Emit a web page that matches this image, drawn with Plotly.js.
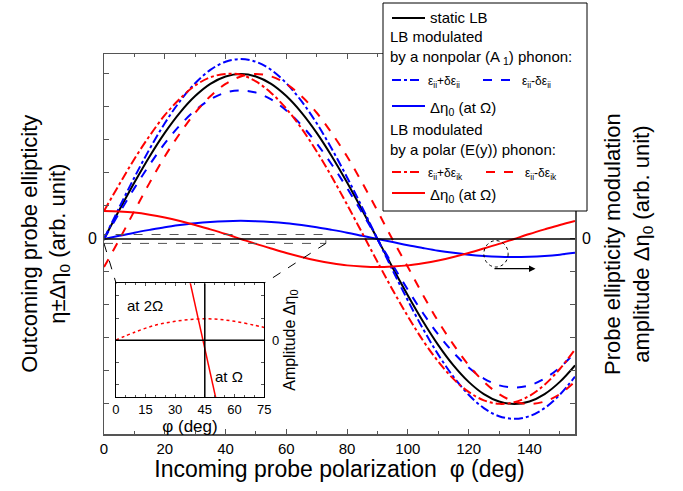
<!DOCTYPE html>
<html><head><meta charset="utf-8">
<script src="https://cdn.plot.ly/plotly-2.35.2.min.js"></script>
<style>body{margin:0;background:#fff}#g{width:683px;height:491px}</style>
</head><body><div id="g"></div>
<script>
const phi=[0,5,10,15,20,25,30,35,40,45,50,55,60,65,70,75,80,85,90,95,100,105,110,115,120,125,130,135,140,145,150,155];
const staticLB=[0,.174,.342,.5,.643,.766,.866,.940,.985,1,.985,.940,.866,.766,.643,.5,.342,.174,0,-.174,-.342,-.5,-.643,-.766,-.866,-.940,-.985,-1,-.985,-.940,-.866,-.766];
const a1Plus=[0,.19,.373,.545,.701,.835,.944,1.025,1.074,1.09,1.074,1.025,.944,.835,.701,.545,.373,.19,0,-.19,-.373,-.545,-.701,-.835,-.944,-1.025,-1.074,-1.09,-1.074,-1.025,-.944,-.835];
const a1Minus=[0,.157,.308,.45,.579,.689,.779,.846,.887,.9,.887,.846,.779,.689,.579,.45,.308,.157,0,-.157,-.308,-.45,-.579,-.689,-.779,-.846,-.887,-.9,-.887,-.846,-.779,-.689];
const a1Delta=[0,.019,.038,.055,.071,.084,.095,.103,.108,.11,.108,.103,.095,.084,.071,.055,.038,.019,0,-.019,-.038,-.055,-.071,-.084,-.095,-.103,-.108,-.11,-.108,-.103,-.095,-.084];
const eyPlus=[.17,.33,.485,.625,.75,.85,.93,.98,1,.995,.955,.885,.79,.67,.53,.375,.208,.035,-.139,-.309,-.469,-.616,-.743,-.848,-.927,-.978,-.999,-.990,-.951,-.883,-.788,-.669];
const eyMinus=[-.17,-.005,.17,.34,.5,.64,.765,.865,.94,.985,1,.985,.94,.865,.765,.64,.5,.34,.17,-.005,-.17,-.34,-.5,-.64,-.765,-.865,-.94,-.985,-1,-.985,-.94,-.865];
const eyDelta=[.17,.167,.16,.147,.13,.109,.085,.058,.03,0,-.03,-.058,-.085,-.109,-.13,-.147,-.16,-.167,-.17,-.167,-.16,-.147,-.13,-.109,-.085,-.058,-.03,0,.03,.058,.085,.109];
const insetPhi=[0,10,20,30,40,50,60,70,75];
const inset2W=[0,.15,.27,.34,.38,.38,.34,.27,.23];
const insetWPhi=[36,54];
const insetW=[1.3,-1.6];
const xTicks=[0,20,40,60,80,100,120,140];
const insetTicks=[0,15,30,45,60,75];

const F='Arial, Liberation Sans, sans-serif';
const ln=(c,d,w)=>({color:c,dash:d,width:w||2,shape:'spline'});
const traces=[
 {x:phi,y:staticLB,line:ln('black','solid')},
 {x:phi,y:a1Plus,line:ln('#0000ff','dashdot')},
 {x:phi,y:a1Minus,line:ln('#0000ff','dash')},
 {x:phi,y:a1Delta,line:ln('#0000ff','solid')},
 {x:phi,y:eyPlus,line:ln('#ff0000','dashdot')},
 {x:phi,y:eyMinus,line:ln('#ff0000','dash')},
 {x:phi,y:eyDelta,line:ln('#ff0000','solid')},
 {x:insetPhi,y:inset2W,xaxis:'x2',yaxis:'y2',line:{color:'#ff0000',dash:'dot',width:1.5,shape:'spline'}},
 {x:insetWPhi,y:insetW,xaxis:'x2',yaxis:'y2',line:{color:'#ff0000',width:1.5}},
].map(t=>Object.assign({type:'scatter',mode:'lines',showlegend:false,hoverinfo:'skip'},t));

const ax={showgrid:false,zeroline:false,showline:true,linecolor:'#555',linewidth:1.5,mirror:'ticks',ticks:'inside',ticklen:5,tickcolor:'#555',tickfont:{family:F,size:15,color:'black'}};
const shapes=[
 {type:'line',xref:'x',yref:'y',x0:0,x1:155,y0:0,y1:0,line:{color:'black',width:1.5}},
 {type:'rect',xref:'x',yref:'y',x0:0,x1:73,y0:-0.027,y1:0.027,line:{color:'#555',width:1,dash:'dash'}},
 {type:'line',xref:'x',yref:'y',x0:0,y0:-0.027,x1:4,y1:-0.27,line:{color:'black',width:1,dash:'dash'}},
 {type:'line',xref:'x',yref:'y',x0:73,y0:-0.027,x1:52.6,y1:-0.27,line:{color:'black',width:1,dash:'dash'}},
 {type:'circle',xref:'x',yref:'y',x0:125,x1:133,y0:-0.17,y1:-0.01,line:{color:'black',width:1,dash:'dot'}},
 {type:'line',xref:'x2',yref:'y2',x0:0,x1:75,y0:0,y1:0,line:{color:'black',width:1.5}},
 {type:'line',xref:'x2',yref:'y2',x0:45,x1:45,y0:-1.03,y1:1.03,line:{color:'black',width:1.5}},
 {type:'rect',xref:'paper',yref:'paper',x0:(383-104)/471,x1:(587-104)/471,y0:(434-211)/380,y1:(434-3)/380,line:{color:'black',width:1},fillcolor:'white',layer:'above'}
];
const K='black';
const A=(o)=>Object.assign({showarrow:false,yanchor:'middle'},o);
const anns=[
 A({x:0,y:0,xref:'x',yref:'y',text:'0',xanchor:'right',xshift:-5,font:{family:F,size:16,color:K}}),
 A({x:1,y:0,xref:'paper',yref:'y',text:'0',xanchor:'left',xshift:5,font:{family:F,size:16,color:K}}),
 {x:142,y:-0.18,ax:128,ay:-0.18,xref:'x',yref:'y',axref:'x',ayref:'y',text:'',showarrow:true,arrowhead:2,arrowwidth:1.3,arrowsize:1,arrowcolor:'black'},
 A({x:-0.126,y:0.5,xref:'paper',yref:'paper',xanchor:'center',text:'Outcoming probe ellipticity<br>η±Δη<sub>0</sub> (arb. unit)',textangle:-90,font:{family:F,size:22,color:K}}),
 A({x:(628-104)/471,y:0.5,xref:'paper',yref:'paper',xanchor:'center',text:'Probe ellipticity modulation<br>amplitude Δη<sub>0</sub> (arb. unit)',textangle:-90,font:{family:F,size:22,color:K}}),
 A({x:15,y:0.62,xref:'x2',yref:'y2',text:'at 2Ω',font:{family:F,size:15,color:K}}),
 A({x:57,y:-0.65,xref:'x2',yref:'y2',text:'at Ω',font:{family:F,size:15,color:K}}),
 A({x:1,y:0,xref:'x2 domain',yref:'y2',text:'0',xanchor:'left',xshift:6,font:{family:F,size:13,color:K}}),
 A({x:1,y:0.5,xref:'x2 domain',yref:'y2 domain',text:'Amplitude Δη<sub>0</sub>',xanchor:'left',xshift:14,textangle:-90,font:{family:F,size:16,color:K}}),
];
const lx=p=>(p-104)/471, ly=p=>(434-p)/380;
function lline(x0,x1,y,c,d){shapes.push({type:'line',xref:'paper',yref:'paper',x0:lx(x0),x1:lx(x1),y0:ly(y),y1:ly(y),line:{color:c,dash:d,width:2},layer:'above'});}
function ltext(x,y,t,s){anns.push(A({x:lx(x),y:ly(y),xref:'paper',yref:'paper',text:t,xanchor:'left',font:{family:F,size:s||15,color:K}}));}
lline(392,425,18,'black','solid');ltext(428,18,'static LB');
ltext(388,37,'LB modulated');ltext(388,57,'by a nonpolar (A<sub> 1</sub>) phonon:');
lline(392,421,80,'#0000ff','dashdot');ltext(426,82,'ε<sub>ii</sub>+δε<sub>ii</sub>',12);
lline(483,518,80,'#0000ff','dash');ltext(520,82,'ε<sub>ii</sub>-δε<sub>ii</sub>',12);
lline(392,425,106,'#0000ff','solid');ltext(428,108,'Δη<sub>0</sub> (at Ω)');
ltext(388,129,'LB modulated');ltext(388,149,'by a polar (E(y)) phonon:');
lline(392,421,172,'#ff0000','dashdot');ltext(426,174,'ε<sub>ii</sub>+δε<sub>ik</sub>',12);
lline(486,521,172,'#ff0000','dash');ltext(523,174,'ε<sub>ii</sub>-δε<sub>ik</sub>',12);
lline(392,425,193,'#ff0000','solid');ltext(428,195,'Δη<sub>0</sub> (at Ω)');

const layout={width:683,height:491,margin:{l:104,r:108,t:54,b:57},paper_bgcolor:'white',plot_bgcolor:'white',showlegend:false,font:{family:F,color:K},
 xaxis:Object.assign({},ax,{range:[0,155],tickvals:xTicks,minor:{dtick:10,ticks:'inside',ticklen:3,tickcolor:'#555'},
   title:{text:'Incoming probe polarization  φ (deg)',font:{family:F,size:23,color:K},standoff:4}}),
 yaxis:Object.assign({},ax,{range:[-1.182,1.121],dtick:0.2,tick0:0,showticklabels:false}),
 xaxis2:Object.assign({},ax,{domain:[0.025,0.34],anchor:'y2',range:[0,75],tickvals:insetTicks,minor:{dtick:5,ticks:'inside',ticklen:2,tickcolor:'#555'},ticklen:3,linecolor:'black',linewidth:1,tickfont:{family:F,size:13,color:K},
   title:{text:'φ (deg)',font:{family:F,size:17,color:K},standoff:0}}),
 yaxis2:Object.assign({},ax,{domain:[0.097,0.397],anchor:'x2',range:[-1.03,1.03],dtick:0.4,tick0:0,ticklen:3,linecolor:'black',linewidth:1,showticklabels:false}),
 shapes:shapes,annotations:anns};
Plotly.newPlot('g',traces,layout,{staticPlot:true});
</script></body></html>
